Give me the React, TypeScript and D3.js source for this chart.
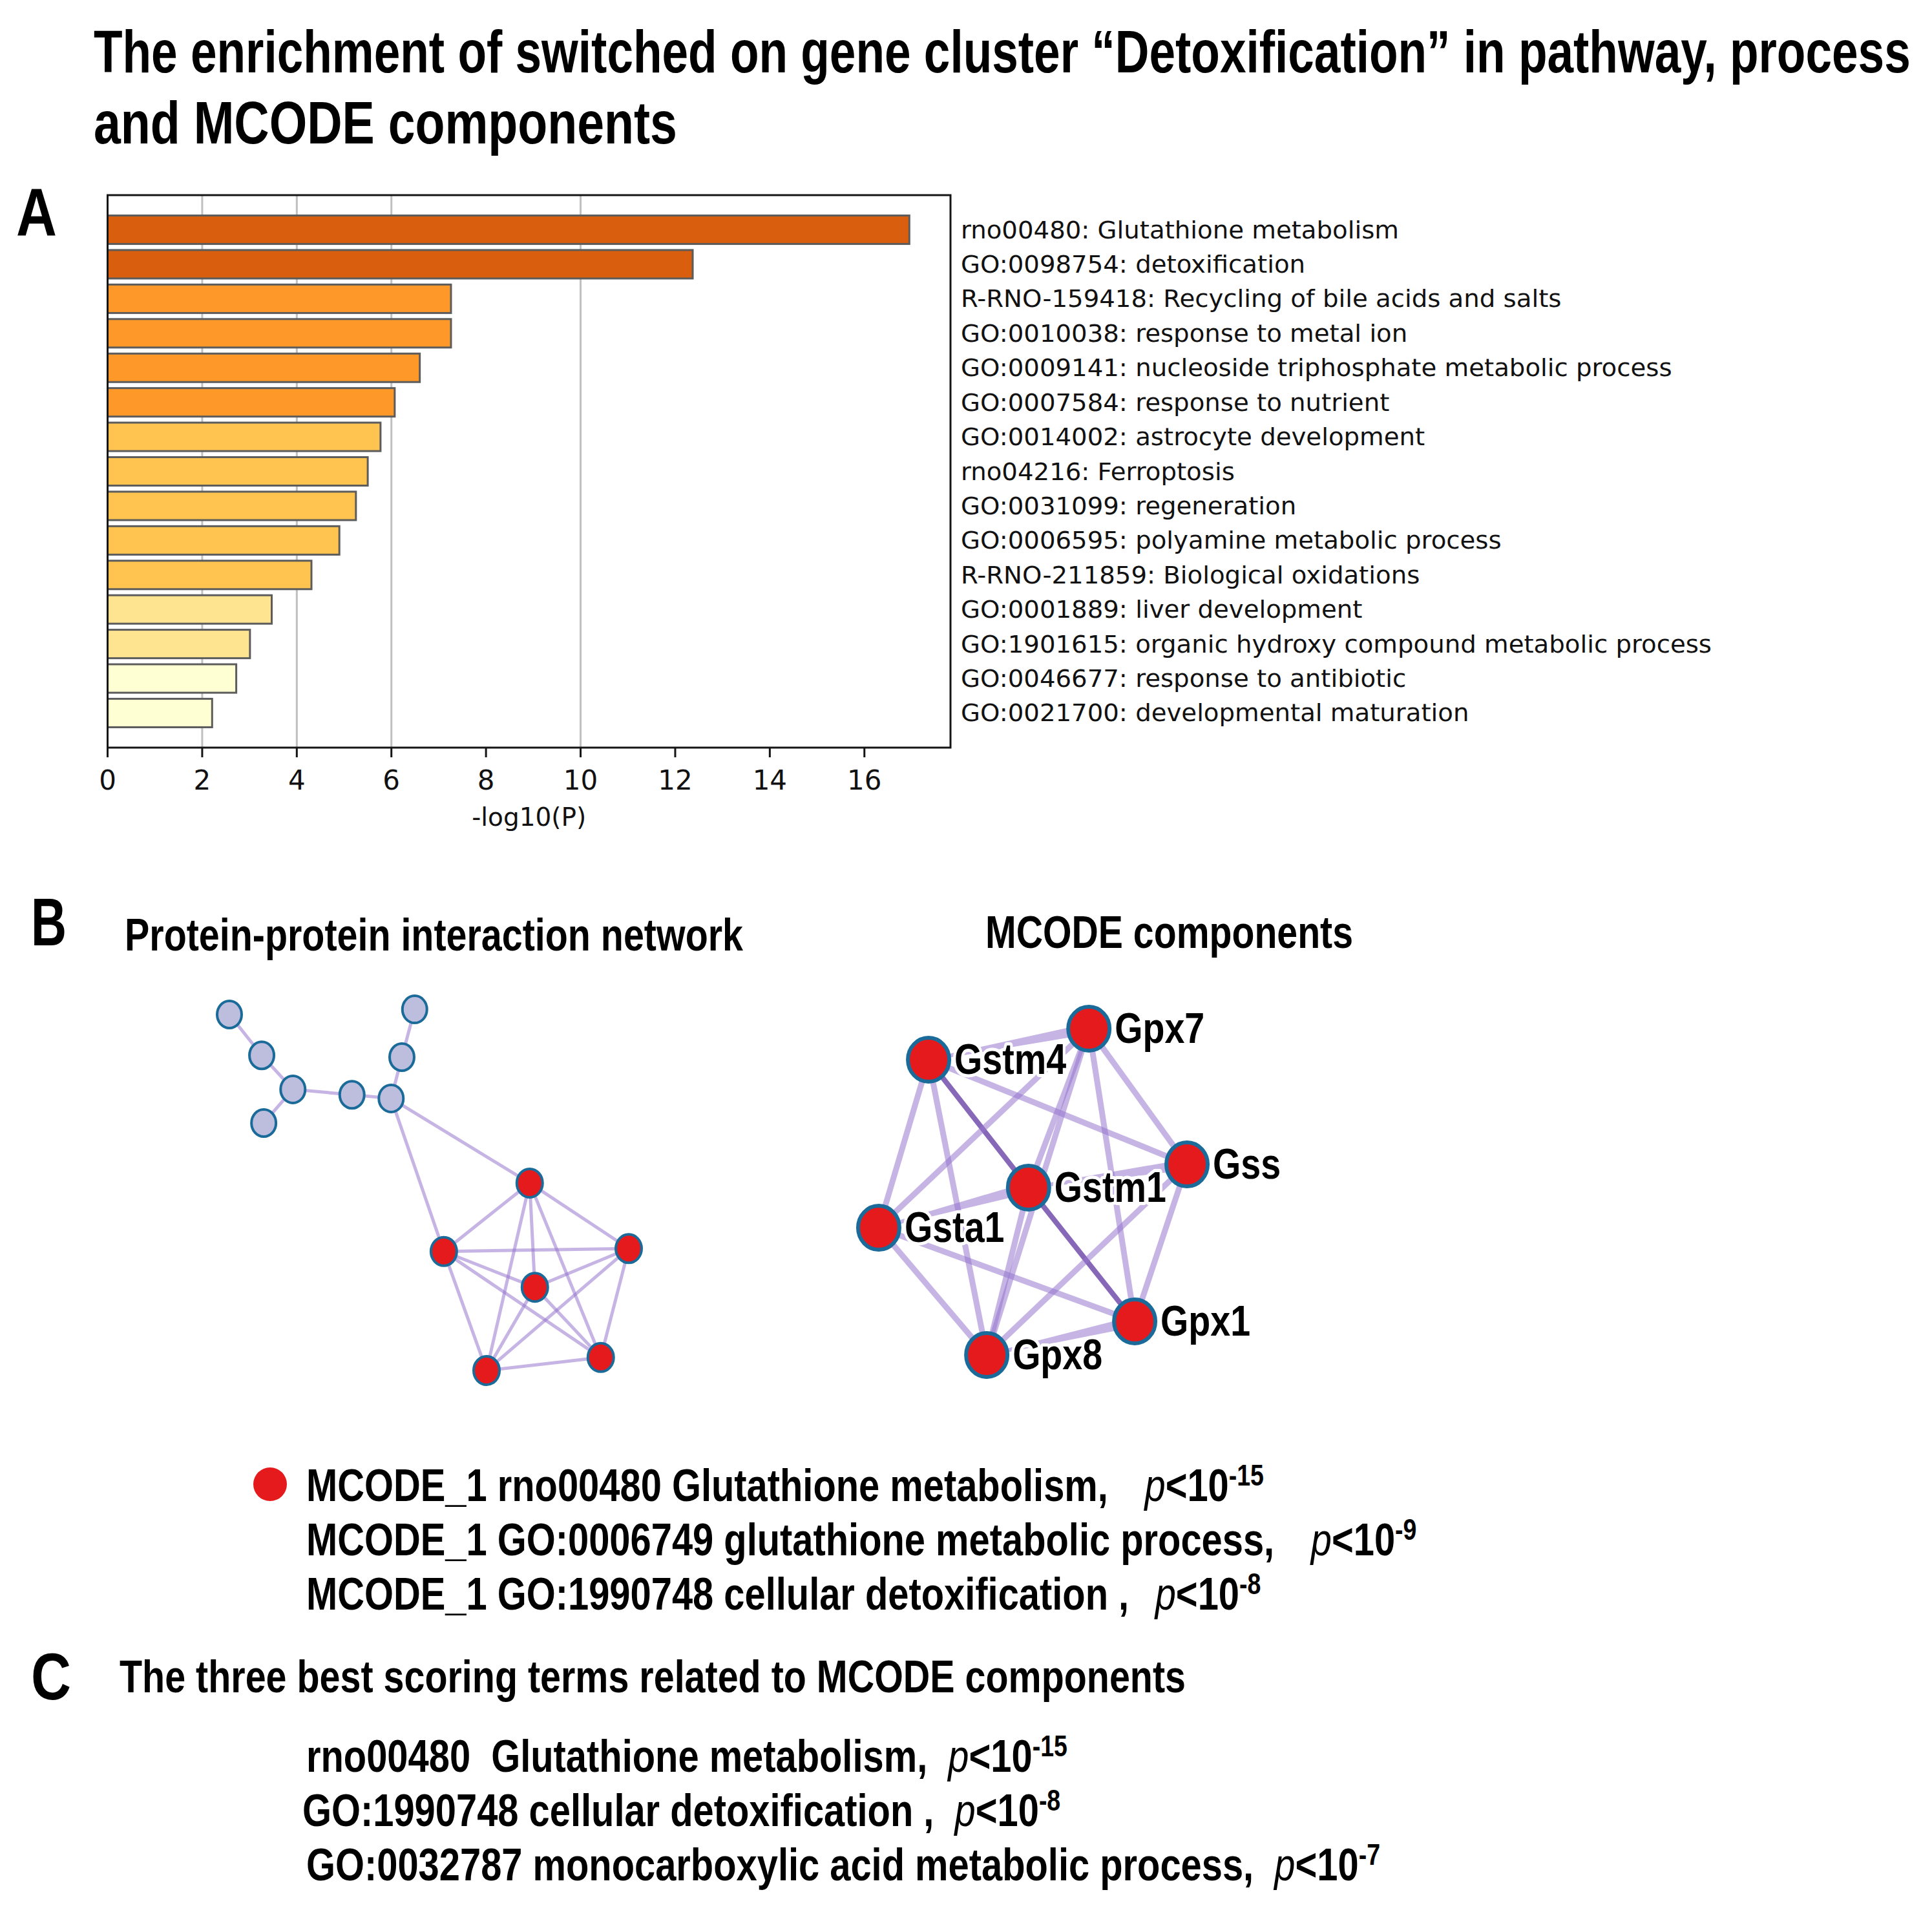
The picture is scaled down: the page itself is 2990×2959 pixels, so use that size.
import React from 'react';
import * as d3 from 'd3';

// ---------------- Panel A data ----------------
const terms: string[] = [
  'rno00480: Glutathione metabolism',
  'GO:0098754: detoxification',
  'R-RNO-159418: Recycling of bile acids and salts',
  'GO:0010038: response to metal ion',
  'GO:0009141: nucleoside triphosphate metabolic process',
  'GO:0007584: response to nutrient',
  'GO:0014002: astrocyte development',
  'rno04216: Ferroptosis',
  'GO:0031099: regeneration',
  'GO:0006595: polyamine metabolic process',
  'R-RNO-211859: Biological oxidations',
  'GO:0001889: liver development',
  'GO:1901615: organic hydroxy compound metabolic process',
  'GO:0046677: response to antibiotic',
  'GO:0021700: developmental maturation',
];
const logP: number[] = [16.95, 12.37, 7.26, 7.26, 6.6, 6.07, 5.77, 5.5, 5.25, 4.9, 4.31, 3.47, 3.01, 2.72, 2.21];
const xTicks: number[] = [0, 2, 4, 6, 8, 10, 12, 14, 16];
const gridValues: number[] = [2, 4, 6, 10];
const colorBins: number[] = [3, 4, 6, 10];
const colorRange: string[] = ['#FFFFD4', '#FEE391', '#FEC44F', '#FE9929', '#D95F0E'];

// ---------------- Panel B data ----------------
// layout coordinates (unitless, 0..1) of the PPI network
const ppiNodes = [
  { id: 'a1', x: 0.0, y: 0.016, mcode: false },
  { id: 'a2', x: 0.081, y: 0.129, mcode: false },
  { id: 'a3', x: 0.159, y: 0.223, mcode: false },
  { id: 'a4', x: 0.086, y: 0.316, mcode: false },
  { id: 'a5', x: 0.307, y: 0.238, mcode: false },
  { id: 'a6', x: 0.405, y: 0.248, mcode: false },
  { id: 'a7', x: 0.432, y: 0.134, mcode: false },
  { id: 'a8', x: 0.464, y: 0.002, mcode: false },
  { id: 'r1', x: 0.752, y: 0.482, mcode: true },
  { id: 'r2', x: 0.537, y: 0.671, mcode: true },
  { id: 'r3', x: 1.0, y: 0.663, mcode: true },
  { id: 'r4', x: 0.765, y: 0.77, mcode: true },
  { id: 'r5', x: 0.644, y: 1.0, mcode: true },
  { id: 'r6', x: 0.93, y: 0.964, mcode: true },
];
const ppiEdges: [string, string][] = [
  ['a1', 'a2'], ['a2', 'a3'], ['a3', 'a4'], ['a3', 'a5'], ['a5', 'a6'], ['a6', 'a7'], ['a7', 'a8'],
  ['a6', 'r1'], ['a6', 'r2'],
  ['r1', 'r2'], ['r1', 'r3'], ['r1', 'r4'], ['r1', 'r5'], ['r1', 'r6'],
  ['r2', 'r3'], ['r2', 'r4'], ['r2', 'r5'], ['r2', 'r6'],
  ['r3', 'r4'], ['r3', 'r5'], ['r3', 'r6'],
  ['r4', 'r5'], ['r4', 'r6'], ['r5', 'r6'],
];

const mcodeNodes = [
  { id: 'Gpx7', x: 0.681, y: 0.0 },
  { id: 'Gstm4', x: 0.163, y: 0.095 },
  { id: 'Gss', x: 0.998, y: 0.416 },
  { id: 'Gstm1', x: 0.486, y: 0.487 },
  { id: 'Gsta1', x: 0.002, y: 0.61 },
  { id: 'Gpx1', x: 0.829, y: 0.897 },
  { id: 'Gpx8', x: 0.351, y: 1.0 },
];
// kind: 1 = normal, 2 = strong, 3 = multi-edge (wedge)
const mcodeEdges: { s: string; t: string; kind: number }[] = [
  { s: 'Gstm4', t: 'Gpx7', kind: 3 },
  { s: 'Gstm4', t: 'Gsta1', kind: 1 },
  { s: 'Gstm4', t: 'Gpx8', kind: 1 },
  { s: 'Gstm4', t: 'Gss', kind: 1 },
  { s: 'Gstm4', t: 'Gstm1', kind: 2 },
  { s: 'Gstm1', t: 'Gpx1', kind: 2 },
  { s: 'Gsta1', t: 'Gpx7', kind: 1 },
  { s: 'Gsta1', t: 'Gstm1', kind: 3 },
  { s: 'Gsta1', t: 'Gpx8', kind: 1 },
  { s: 'Gsta1', t: 'Gpx1', kind: 1 },
  { s: 'Gpx7', t: 'Gpx8', kind: 1 },
  { s: 'Gpx7', t: 'Gstm1', kind: 1 },
  { s: 'Gpx7', t: 'Gpx1', kind: 1 },
  { s: 'Gpx7', t: 'Gss', kind: 1 },
  { s: 'Gss', t: 'Gpx1', kind: 1 },
  { s: 'Gstm1', t: 'Gss', kind: 3 },
  { s: 'Gpx8', t: 'Gpx1', kind: 3 },
  { s: 'Gss', t: 'Gpx8', kind: 1 },
  { s: 'Gstm1', t: 'Gpx8', kind: 1 },
];

const mcodeIds: string[] = ['MCODE_1', 'MCODE_1', 'MCODE_1'];
const mcodeTermIds: string[] = ['rno00480', 'GO:0006749', 'GO:1990748'];
const mcodeTermNames: string[] = ['Glutathione metabolism,', 'glutathione metabolic process,', 'cellular detoxification ,'];
const mcodeExps: string[] = ['-15', '-9', '-8'];

// ---------------- Panel C data ----------------
const bestTermIds: string[] = ['rno00480', 'GO:1990748', 'GO:0032787'];
const bestTermNames: string[] = ['Glutathione metabolism,', 'cellular detoxification ,', 'monocarboxylic acid metabolic process,'];
const bestExps: string[] = ['-15', '-8', '-7'];

const SANS = "'Liberation Sans', Arial, Helvetica, sans-serif";
const DJ = "'DejaVu Sans', Verdana, sans-serif";
const EDGE = 'rgba(150,118,205,0.55)';
const EDGE_DARK = 'rgba(105,65,165,0.8)';
const RED = '#E41A1C';
const NODE_STROKE = '#1A6B9A';

function wedge(x1: number, y1: number, x2: number, y2: number, w1: number, w2: number) {
  const dx = x2 - x1, dy = y2 - y1;
  const L = Math.hypot(dx, dy) || 1;
  const nx = -dy / L, ny = dx / L;
  const p = d3.path();
  p.moveTo(x1 + nx * w1 / 2, y1 + ny * w1 / 2);
  p.lineTo(x2 + nx * w2 / 2, y2 + ny * w2 / 2);
  p.lineTo(x2 - nx * w2 / 2, y2 - ny * w2 / 2);
  p.lineTo(x1 - nx * w1 / 2, y1 - ny * w1 / 2);
  p.closePath();
  return p.toString();
}

function TermLine({ x, y, text, exp, gap, pdx }: { x: number; y: number; text: string; exp: string; gap: string; pdx: number }) {
  return (
    <text transform={`translate(${x},${y}) scale(0.815,1)`} fontFamily={SANS} fontSize={71} fill="#000" style={{ whiteSpace: 'pre' }}>
      <tspan fontWeight={700}>{text}</tspan>
      <tspan fontWeight={400}>{gap}</tspan>
      <tspan fontWeight={400} fontStyle="italic" dx={pdx}>p</tspan>
      <tspan fontWeight={700}>{'<10'}</tspan>
      <tspan fontWeight={700} fontSize={46} dy={-24}>{exp}</tspan>
    </text>
  );
}

export default function App() {
  const W = 2990, H = 2959;

  // Panel A scales
  const x = d3.scaleLinear().domain([0, 17.82]).range([166.5, 1471]);
  const y = d3.scaleBand<string>().domain(terms).range([302, 1157]).paddingInner(0.176).paddingOuter(0.59);
  const color = d3.scaleThreshold<number, string>().domain(colorBins).range(colorRange);
  const bw = y.bandwidth();
  const [fx0, fx1] = x.range();
  const [fy0, fy1] = y.range();

  // Panel B scales
  const px = d3.scaleLinear().domain([0, 1]).range([355, 973]);
  const py = d3.scaleLinear().domain([0, 1]).range([1561, 2121]);
  const mx = d3.scaleLinear().domain([0, 1]).range([1359, 1838]);
  const my = d3.scaleLinear().domain([0, 1]).range([1592, 2097]);
  const ppiById = new Map(ppiNodes.map((n) => [n.id, n]));
  const mcById = new Map(mcodeNodes.map((n) => [n.id, n]));

  return (
    <svg width={W} height={H} viewBox={`0 0 ${W} ${H}`} style={{ position: 'absolute', left: 0, top: 0, display: 'block', background: '#fff' }}>
      <rect x={0} y={0} width={W} height={H} fill="#fff" />
      {/* Title */}
      <text transform="translate(145,112) scale(0.793,1)" fontFamily={SANS} fontWeight={700} fontSize={92}>
        The enrichment of switched on gene cluster “Detoxification” in pathway, process
      </text>
      <text transform="translate(145,222) scale(0.818,1)" fontFamily={SANS} fontWeight={700} fontSize={92}>
        and MCODE components
      </text>

      {/* Panel A */}
      <text x={25} y={364} fontFamily={SANS} fontWeight={700} fontSize={103} textLength={63} lengthAdjust="spacingAndGlyphs">A</text>
      <g>
        {gridValues.map((v) => (
          <line key={'g' + v} x1={x(v)} x2={x(v)} y1={fy0} y2={fy1} stroke="#c0c0c0" strokeWidth={3} />
        ))}
        {terms.map((t, i) => (
          <rect key={t} x={x(0)} y={y(t)!} width={x(logP[i]) - x(0)} height={bw} fill={color(logP[i])} stroke="#5c5c5c" strokeWidth={3} />
        ))}
        <rect x={fx0} y={fy0} width={fx1 - fx0} height={fy1 - fy0} fill="none" stroke="#151515" strokeWidth={3} />
        {xTicks.map((v) => (
          <g key={'t' + v}>
            <line x1={x(v)} x2={x(v)} y1={fy1} y2={fy1 + 15} stroke="#151515" strokeWidth={3} />
            <text x={x(v)} y={fy1 + 65} textAnchor="middle" fontFamily={DJ} fontSize={42} fill="#111">{v}</text>
          </g>
        ))}
        <text x={(fx0 + fx1) / 2} y={1278} textAnchor="middle" fontFamily={DJ} fontSize={39} fill="#111">-log10(P)</text>
        {terms.map((t) => (
          <text key={'l' + t} transform={`translate(1487,${y(t)! + bw / 2 + 13}) scale(1.045,1)`} fontFamily={DJ} fontSize={37} fill="#111">{t}</text>
        ))}
      </g>

      {/* Panel B */}
      <text x={48} y={1463} fontFamily={SANS} fontWeight={700} fontSize={104} textLength={55} lengthAdjust="spacingAndGlyphs">B</text>
      <text x={193} y={1471} fontFamily={SANS} fontWeight={700} fontSize={71} textLength={957} lengthAdjust="spacingAndGlyphs">Protein-protein interaction network</text>
      <text x={1525} y={1467} fontFamily={SANS} fontWeight={700} fontSize={71} textLength={569} lengthAdjust="spacingAndGlyphs">MCODE components</text>

      <g>
        {ppiEdges.map(([s, t]) => {
          const a = ppiById.get(s)!, b = ppiById.get(t)!;
          return <line key={s + t} x1={px(a.x)} y1={py(a.y)} x2={px(b.x)} y2={py(b.y)} stroke={EDGE} strokeWidth={5} />;
        })}
        {ppiNodes.map((n) => (
          <ellipse key={n.id} cx={px(n.x)} cy={py(n.y)} rx={n.mcode ? 20 : 19} ry={n.mcode ? 22 : 21} fill={n.mcode ? RED : '#BDBDDD'} stroke={NODE_STROKE} strokeWidth={4} />
        ))}
      </g>

      <g>
        {mcodeEdges.map((e) => {
          const a = mcById.get(e.s)!, b = mcById.get(e.t)!;
          const x1 = mx(a.x), y1 = my(a.y), x2 = mx(b.x), y2 = my(b.y);
          if (e.kind === 3) return <path key={e.s + e.t} d={wedge(x1, y1, x2, y2, 4, 17)} fill={EDGE} />;
          return <line key={e.s + e.t} x1={x1} y1={y1} x2={x2} y2={y2} stroke={e.kind === 2 ? EDGE_DARK : EDGE} strokeWidth={e.kind === 2 ? 8 : 9} />;
        })}
        {mcodeNodes.map((n) => (
          <ellipse key={n.id} cx={mx(n.x)} cy={my(n.y)} rx={32} ry={34} fill={RED} stroke={NODE_STROKE} strokeWidth={6} />
        ))}
        {mcodeNodes.map((n) => (
          <text key={'lab' + n.id} transform={`translate(${mx(n.x) + 40},${my(n.y) + 22}) scale(0.83,1)`} fontFamily={SANS} fontWeight={700} fontSize={67}
            fill="#000" stroke="#fff" strokeWidth={10} strokeLinejoin="round" style={{ paintOrder: 'stroke' }}>{n.id}</text>
        ))}
      </g>

      {/* legend of panel B */}
      <circle cx={418} cy={2297} r={26} fill={RED} />
      {mcodeIds.map((id, i) => (
        <TermLine key={'m' + i} x={474} y={2323 + i * 84} text={`${id} ${mcodeTermIds[i]} ${mcodeTermNames[i]}`} exp={mcodeExps[i]} gap={i === 2 ? ' ' : '  '} pdx={30} />
      ))}

      {/* Panel C */}
      <text x={48} y={2630} fontFamily={SANS} fontWeight={700} fontSize={102} textLength={62} lengthAdjust="spacingAndGlyphs">C</text>
      <text x={185} y={2619} fontFamily={SANS} fontWeight={700} fontSize={71} textLength={1650} lengthAdjust="spacingAndGlyphs">The three best scoring terms related to MCODE components</text>
      {bestTermIds.map((id, i) => (
        <TermLine key={'c' + i} x={i === 1 ? 468 : 474} y={2742 + i * 84} text={`${id}${i === 0 ? '  ' : ' '}${bestTermNames[i]}`} exp={bestExps[i]} gap={'  '} pdx={0} />
      ))}
    </svg>
  );
}
